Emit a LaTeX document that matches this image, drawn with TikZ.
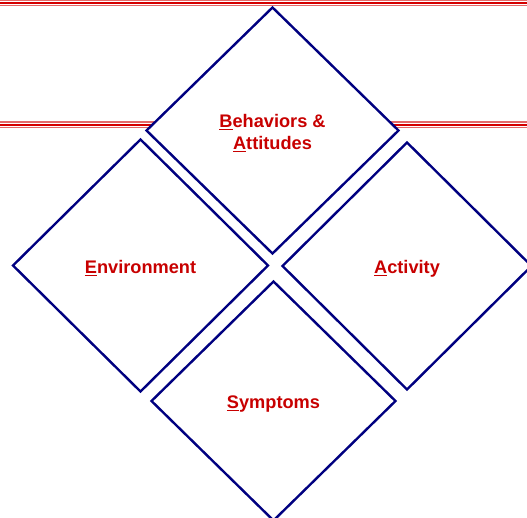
\documentclass[tikz,border=0pt]{standalone}
\usepackage{fontspec}
\setmainfont{Liberation Sans}
\usetikzlibrary{shapes.geometric, backgrounds}
\definecolor{cnavy}{HTML}{000080}
\definecolor{cred}{HTML}{C80000}
\definecolor{crule}{HTML}{D40000}
\definecolor{crulelight}{HTML}{E46A6A}
\tikzset{
  every picture/.style={x=1pt, y=-1pt},
  facet/.style={shape=diamond, draw=cnavy, fill=white, line width=2.4pt, align=center,
    text=cred, font=\bfseries\fontsize{18.2}{22}\selectfont, inner sep=0pt},
  rule/.style={draw=crule, line width=2pt},
  rulethin/.style={draw=crulelight, line width=1.4pt},
}
% underlined initial, with a strut that pushes the text a little lower
\newcommand{\ul}[1]{\rule{0pt}{19pt}\underline{#1}}

\begin{document}
\begin{tikzpicture}
  \useasboundingbox (0,0) rectangle (527,518);

  % ---- red rules across the page
  \foreach \y in {0, 121.5} {
    \draw[rulethin] (0,\y+0.7) -- (527,\y+0.7);
    \draw[rule]     (0,\y+3.2) -- (527,\y+3.2);
    \draw[rulethin] (0,\y+5.8) -- (527,\y+5.8);
  }

  % ---- four diamonds
  \node[facet, minimum width=253pt, minimum height=247pt] (beh) at (272.5,130.5)
    {\ul{B}ehaviors \&\\\underline{A}ttitudes};
  \node[facet, minimum width=256pt, minimum height=253pt] (env) at (140.5,265.5)
    {\ul{E}nvironment};
  \node[facet, minimum width=250pt, minimum height=248pt] (act) at (407,266)
    {\ul{A}ctivity};
  \node[facet, minimum width=245pt, minimum height=240pt] (sym) at (273.5,401)
    {\ul{S}ymptoms};
\end{tikzpicture}
\end{document}
